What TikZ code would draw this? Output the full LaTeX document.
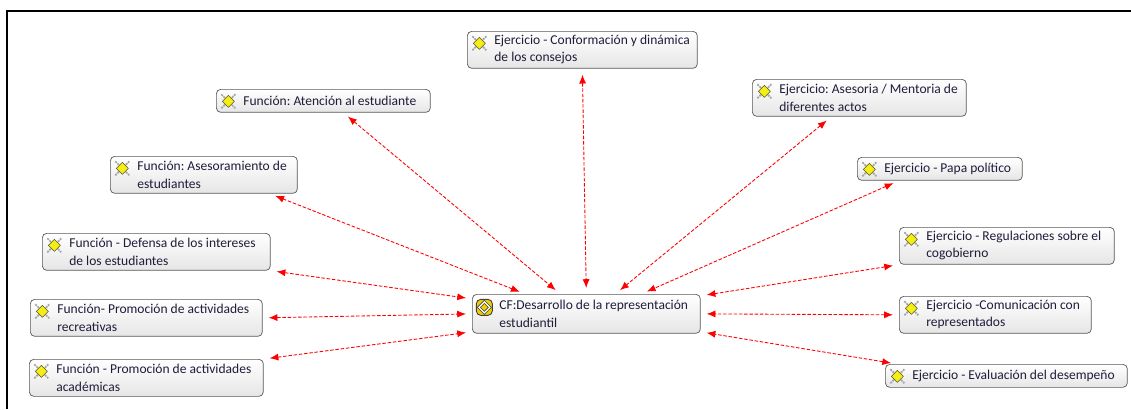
\documentclass[tikz,border=0pt]{standalone}
\usepackage{fontspec}
\setmainfont{Carlito}
\frenchspacing
\usetikzlibrary{calc,arrows.meta}
\definecolor{labeltext}{RGB}{32,28,58}
\definecolor{iconyellow}{RGB}{245,238,20}
\definecolor{famyellow}{RGB}{240,205,0}

\tikzset{
  codeicon/.pic={
    \draw[sharp corners, gray!70, line width=1pt, dash pattern=on 1.2pt off 0.5pt] (-7,-7) -- (7,7) (-7,7) -- (7,-7);
    \draw[sharp corners, olive!50!black, fill=iconyellow, line width=0.3pt] (0,-6) -- (6,0) -- (0,6) -- (-6,0) -- cycle;
  },
  familyicon/.pic={
    \draw[black!75, fill=famyellow, rounded corners=2.5pt, line width=0.5pt] (-8,-8) rectangle (8,8);
    \draw[sharp corners, black!75, line width=1.6pt] (0,-5.5) -- (5.5,0) -- (0,5.5) -- (-5.5,0) -- cycle;
    \draw[sharp corners, white, line width=0.7pt] (0,-5.5) -- (5.5,0) -- (0,5.5) -- (-5.5,0) -- cycle;
  },
  box/.style={draw=black!65, rounded corners=2.5pt, top color=white, bottom color=black!10,
    anchor=north west, inner xsep=0pt, inner ysep=1pt, minimum height=0.74cm,
    text width=#1, align=flush left, text=labeltext, font=\fontsize{7.7}{9.7}\selectfont,
    execute at begin node={\leftskip=0.54cm}},
  code/.style={box=#1, path picture={\pic at ([shift={(12,12)}]path picture bounding box.north west) {codeicon};}},
  family/.style={box=#1, minimum height=0.78cm, path picture={\pic at ([shift={(12,13)}]path picture bounding box.north west) {familyicon};}},
  short/.style={minimum height=0.46cm},
  link/.style={red, line width=0.5pt, dash pattern=on 2pt off 1pt,
    {Latex[length=5pt,width=4pt]}-{Latex[length=5pt,width=4pt]}, shorten <=0.12cm, shorten >=0.12cm}
}

\begin{document}
\begin{tikzpicture}[x=0.02cm, y=-0.02cm]
\useasboundingbox (0,0) rectangle (1131,409);
\draw[line width=1.1pt] (7,409) -- (7,11) -- (1131,11);

% outer codes
\node[code=4.60cm] (consejos) at (467,31) {Ejercicio - Conformación y dinámica\\de los consejos};
\node[code=4.28cm, short] (atencion) at (216,89) {Función: Atención al estudiante};
\node[code=4.28cm] (mentoria) at (752,79) {Ejercicio: Asesoria / Mentoria de\\diferentes actos};
\node[code=3.74cm] (asesoramiento) at (110,156) {Función: Asesoramiento de\\estudiantes};
\node[code=3.30cm, short] (papa) at (857,157) {Ejercicio - Papa político};
\node[code=4.56cm] (defensa) at (42,233) {Función - Defensa de los intereses\\de los estudiantes};
\node[code=4.30cm] (regulaciones) at (899,227) {Ejercicio - Regulaciones sobre el\\cogobierno};
\node[code=4.64cm] (recreativas) at (30,299) {Función- Promoción de actividades\\recreativas};
\node[code=3.84cm] (comunicacion) at (899,296) {Ejercicio -Comunicación con\\representados};
\node[code=4.68cm] (academicas) at (29,359) {Función - Promoción de actividades\\académicas};
\node[code=4.84cm, short] (evaluacion) at (885,364) {Ejercicio - Evaluación del desempeño};

% family in the middle
\node[family=4.56cm] (cf) at (472,294) {CF:Desarrollo de la representación\\estudiantil};

\draw[link] (consejos.south) -- (cf.north);
\draw[link] ($(atencion.south)+(20,0)$) -- ($(cf.north)+(-26,0)$);
\draw[link] ($(mentoria.south)+(-28,0)$) -- ($(cf.north)+(29,0)$);
\draw[link] ($(asesoramiento.south east)+(-28,0)$) -- ($(cf.north)+(-61,0)$);
\draw[link] ($(papa.south west)+(42,0)$) -- ($(cf.north)+(55,0)$);
\draw[link] (defensa.south east) -- ($(cf.west)+(0,-15)$);
\draw[link] (regulaciones.south west) -- ($(cf.east)+(0,-18)$);
\draw[link] (recreativas.east) -- (cf.west);
\draw[link] (comunicacion.west) -- (cf.east);
\draw[link] (academicas.north east) -- ($(cf.west)+(0,18)$);
\draw[link] ($(evaluacion.north west)+(12,0)$) -- ($(cf.east)+(0,18)$);
\end{tikzpicture}
\end{document}
